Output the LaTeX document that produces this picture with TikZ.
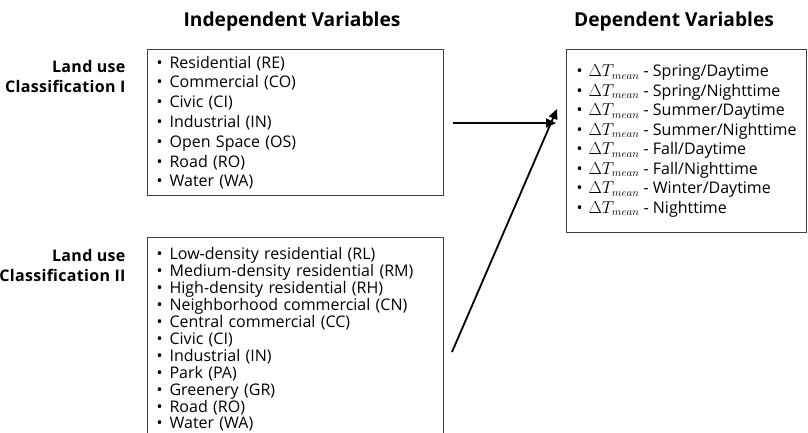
\documentclass[tikz,border=0pt]{standalone}
\usepackage{fontspec}
\setmainfont{Open Sans}
\usepackage{tikz}
\usetikzlibrary{arrows.meta}
\newcommand{\bul}{\makebox[13pt][l]{\textbullet}}
\newcommand{\dT}{\makebox[12pt][l]{\textbullet}$\Delta T_{mean}$ - }
\tikzset{
  varbox/.style={draw=black!75, line width=1.2pt, anchor=north west, align=left,
    inner xsep=9pt, inner ysep=0pt},
  vartitle/.style={font=\bfseries\fontsize{19.2}{22}\selectfont},
  classlabel/.style={font=\bfseries\fontsize{16}{20}\selectfont\addfontfeature{LetterSpace=2}, align=right, anchor=east},
  flow/.style={-{Triangle[length=10pt,width=9pt]}, line width=1.8pt}
}

\begin{document}
\begin{tikzpicture}[x=1pt, y=-1pt]
\useasboundingbox (0,0) rectangle (808,432);
\clip (0,0) rectangle (808,432);

\node[vartitle] (indep) at (292,22) {Independent Variables};
\node[vartitle] (dep) at (674,22) {Dependent Variables};

\node[classlabel] (labI) at (129,76) {Land use\\Classification I};
\node[classlabel] (labII) at (129,265) {Land use\\Classification II};

\node[varbox, minimum height=146pt, text width=278pt, font=\fontsize{16}{19.8}\selectfont] (classI) at (147,49) {%
\bul Residential (RE)\\
\bul Commercial (CO)\\
\bul Civic (CI)\\
\bul Industrial (IN)\\
\bul Open Space (OS)\\
\bul Road (RO)\\
\bul Water (WA)};

\node[varbox, minimum height=204pt, text width=278pt, font=\fontsize{16}{16.9}\selectfont] (classII) at (147,237) {%
\bul Low-density residential (RL)\\
\bul Medium-density residential (RM)\\
\bul High-density residential (RH)\\
\bul Neighborhood commercial (CN)\\
\bul Central commercial (CC)\\
\bul Civic (CI)\\
\bul Industrial (IN)\\
\bul Park (PA)\\
\bul Greenery (GR)\\
\bul Road (RO)\\
\bul Water (WA)};

\node[varbox, inner xsep=4pt, minimum width=240pt, minimum height=183pt, font=\fontsize{16}{19.5}\selectfont] (temp) at (566,49) {%
\dT Spring/Daytime\\
\dT Spring/Nighttime\\
\dT Summer/Daytime\\
\dT Summer/Nighttime\\
\dT Fall/Daytime\\
\dT Fall/Nighttime\\
\dT Winter/Daytime\\
\dT Nighttime};

% arrows into the dependent box
\coordinate (fromI) at ([xshift=9pt]classI.east |- 0,123);
\coordinate (toI) at ([xshift=-10pt]temp.west |- 0,123);
\coordinate (fromII) at (452,352);
\coordinate (toII) at (557,109);
\draw[flow] (fromI) -- (toI);
\draw[flow] (fromII) -- (toII);

\end{tikzpicture}
\end{document}
